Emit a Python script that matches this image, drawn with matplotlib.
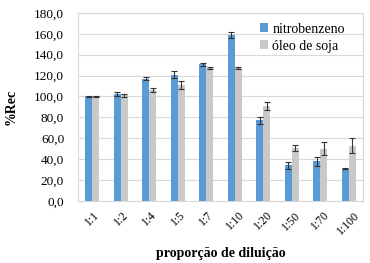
import numpy as np
import matplotlib
matplotlib.use('Agg')
import matplotlib.pyplot as plt

categories = ['1:1', '1:2', '1:4', '1:5', '1:7', '1:10', '1:20', '1:50', '1:70', '1:100']
nitro = [100, 102, 117, 121, 131, 159, 77, 34, 38, 31]
nitro_err = [0.5, 2, 1.5, 3, 1.5, 3, 3, 3.5, 4.5, 0.5]
oleo = [100, 101, 106, 111, 127, 127, 91, 51, 50, 53]
oleo_err = [0.5, 1.5, 2, 4, 1, 1, 4, 3, 6, 7]

plt.rcParams['font.family'] = ['Liberation Serif', 'DejaVu Serif']

fig = plt.figure(figsize=(3.7, 2.63), dpi=100)
ax = fig.add_axes([0.211, 0.236, 0.770, 0.715])

x = np.arange(len(categories))
w = 0.25
err_kw = dict(ecolor='#333333', elinewidth=0.8, capsize=2, capthick=0.8)
ax.bar(x - w / 2, nitro, w, yerr=nitro_err, color='#5B9BD5', label='nitrobenzeno', error_kw=err_kw, zorder=3)
ax.bar(x + w / 2, oleo, w, yerr=oleo_err, color='#C9C9C9', label='óleo de soja', error_kw=err_kw, zorder=3)

ax.set_ylim(0, 180)
ax.set_xlim(-0.5, len(categories) - 0.5)
ax.set_yticks(range(0, 181, 20))
ax.set_yticklabels([f'{v},0' for v in range(0, 181, 20)], fontsize=9.5)
ax.set_xticks(x)
ax.set_xticklabels(categories, rotation=45, fontsize=8.5, ha='center')
ax.tick_params(axis='both', length=0)
ax.tick_params(axis='y', pad=10)
ax.tick_params(axis='x', pad=6)
ax.grid(axis='y', color='#D9D9D9', linewidth=0.8, zorder=0)
for s in ax.spines.values():
    s.set_color('#D9D9D9')
    s.set_linewidth(0.8)

ax.set_ylabel('%Rec', fontsize=10, fontweight='bold', labelpad=12)
ax.set_xlabel('proporção de diluição', fontsize=10, fontweight='bold', labelpad=7)

ax.legend(loc='upper right', bbox_to_anchor=(0.97, 1.0), fontsize=10, frameon=False,
          handlelength=0.6, handleheight=0.6, handletextpad=0.3, labelspacing=0.3,
          borderaxespad=0.3)

fig.savefig('out.png', dpi=100)
